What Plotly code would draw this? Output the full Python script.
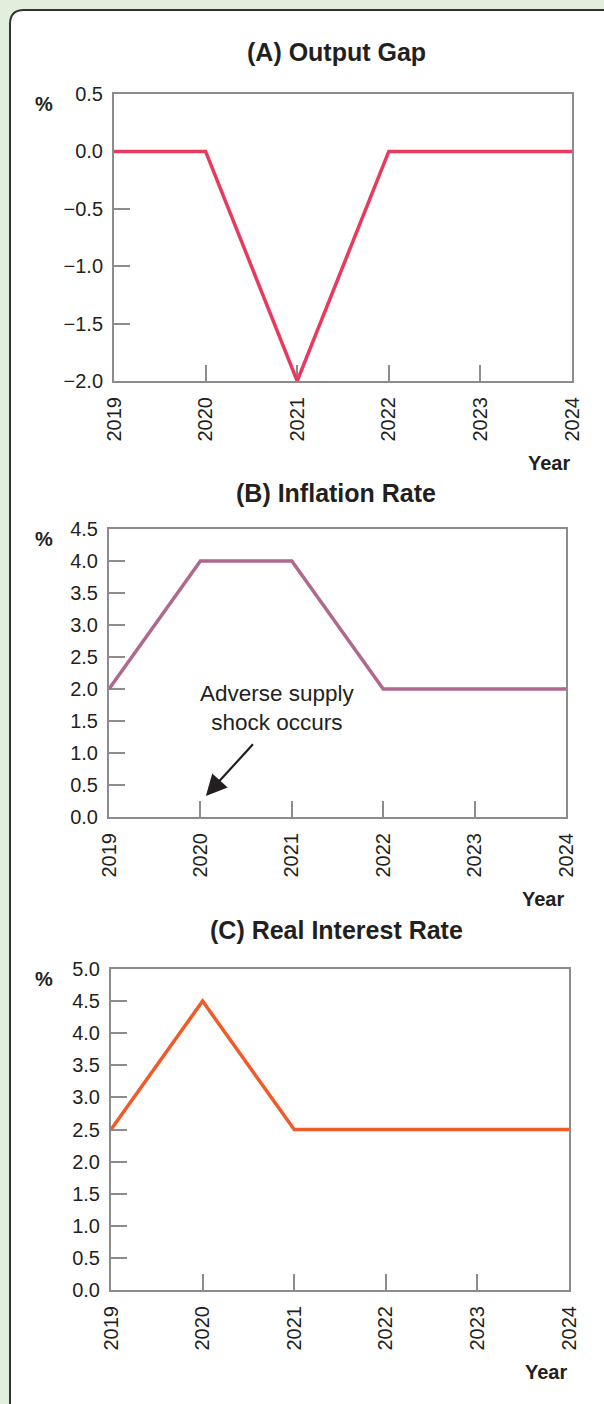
import plotly.graph_objects as go

# Data
years = [2019, 2020, 2021, 2022, 2023, 2024]
year_labels = ["2019", "2020", "2021", "2022", "2023", "2024"]
output_gap = [0.0, 0.0, -2.0, 0.0, 0.0, 0.0]
inflation = [2.0, 4.0, 4.0, 2.0, 2.0, 2.0]
real_rate = [2.5, 4.5, 2.5, 2.5, 2.5, 2.5]

gap_ticks = [-2.0, -1.5, -1.0, -0.5, 0.0, 0.5]
infl_ticks = [0.0, 0.5, 1.0, 1.5, 2.0, 2.5, 3.0, 3.5, 4.0, 4.5]
rate_ticks = [0.0, 0.5, 1.0, 1.5, 2.0, 2.5, 3.0, 3.5, 4.0, 4.5, 5.0]

W, H = 604, 1404
FONT = "Liberation Sans, Arial, Helvetica, sans-serif"
AXIS_GREY = "#8c8c8c"
TEXT = "#231f20"


def px(x):
    return x / W


def py(y):
    return 1 - y / H


fig = go.Figure()

panels = [
    dict(x=output_gap, color="#e8395f", ticks=gap_ticks, rng=[-2.0, 0.5],
         xd=(114, 572), yd=(94, 381), title="(A) Output Gap", ty=52),
    dict(x=inflation, color="#b0688c", ticks=infl_ticks, rng=[0.0, 4.5],
         xd=(109, 566), yd=(529, 817), title="(B) Inflation Rate", ty=493),
    dict(x=real_rate, color="#f15a29", ticks=rate_ticks, rng=[0.0, 5.0],
         xd=(111, 569), yd=(969, 1290), title="(C) Real Interest Rate", ty=930),
]

annotations = []
for i, p in enumerate(panels, start=1):
    sx = "" if i == 1 else str(i)
    fig.add_trace(go.Scatter(
        x=years, y=p["x"], mode="lines",
        line=dict(color=p["color"], width=3.5),
        xaxis="x" + sx, yaxis="y" + sx, showlegend=False,
        cliponaxis=False, hoverinfo="x+y",
    ))
    axis_common = dict(
        showline=True, linecolor=AXIS_GREY, linewidth=2, mirror=True,
        ticks="inside", ticklen=16, tickwidth=2, tickcolor=AXIS_GREY,
        showgrid=False, zeroline=False, automargin=False,
        layer="below traces",
        tickfont=dict(family=FONT, size=20, color=TEXT),
    )
    fig.update_layout(**{
        "xaxis" + sx: dict(
            domain=[px(p["xd"][0]), px(p["xd"][1])],
            anchor="y" + sx, range=[2019, 2024],
            tickvals=years, ticktext=year_labels, tickangle=-90,
            ticklabelstandoff=6,
            **axis_common,
        ),
        "yaxis" + sx: dict(
            domain=[py(p["yd"][1]), py(p["yd"][0])],
            anchor="x" + sx, range=p["rng"],
            tickvals=p["ticks"], tickformat=".1f",
            ticklabelstandoff=5,
            **axis_common,
        ),
    })
    annotations.append(dict(
        x=px(336), y=py(p["ty"]), xref="paper", yref="paper",
        text="<b>" + p["title"] + "</b>", showarrow=False,
        font=dict(family=FONT, size=25, color=TEXT),
        xanchor="center", yanchor="middle",
    ))
    annotations.append(dict(
        x=px(44), y=py(p["yd"][0] + 10), xref="paper", yref="paper",
        text="<b>%</b>", showarrow=False,
        font=dict(family=FONT, size=20, color=TEXT),
        xanchor="center", yanchor="middle",
    ))
    annotations.append(dict(
        x=px(p["xd"][1]), y=py(p["yd"][1] + 82), xref="paper", yref="paper",
        text="<b>Year</b>", showarrow=False,
        font=dict(family=FONT, size=20, color=TEXT),
        xanchor="right", yanchor="middle",
    ))

# Supply-shock callout in panel B
annotations.append(dict(
    x=2020.84, y=1.70, xref="x2", yref="y2",
    text="Adverse supply<br>shock occurs", showarrow=False,
    font=dict(family=FONT, size=22.5, color=TEXT),
    xanchor="center", yanchor="middle", align="center",
))
annotations.append(dict(
    x=2020.06, y=0.33, xref="x2", yref="y2",
    ax=2020.59, ay=1.16, axref="x2", ayref="y2",
    text="", showarrow=True, arrowhead=2, arrowsize=1.9, arrowwidth=2.2,
    arrowcolor=TEXT,
))

# White card with a rounded top-left corner on a pale green page
r = 14
x0, y0, x1, y1 = 10, 10, 610, 1420
card = (
    f"M {px(x0)},{py(y1)} L {px(x0)},{py(y0 + r)} "
    f"Q {px(x0)},{py(y0)} {px(x0 + r)},{py(y0)} "
    f"L {px(x1)},{py(y0)} L {px(x1)},{py(y1)} Z"
)

fig.update_layout(
    template="none",
    width=W, height=H,
    margin=dict(l=0, r=0, t=0, b=0, pad=0),
    paper_bgcolor="#e2efdc",
    plot_bgcolor="rgba(0,0,0,0)",
    font=dict(family=FONT, color=TEXT),
    annotations=annotations,
    shapes=[dict(type="path", path=card, xref="paper", yref="paper",
                 fillcolor="white", line=dict(color="#333333", width=2),
                 layer="below")],
)

fig.write_html("out.html")
